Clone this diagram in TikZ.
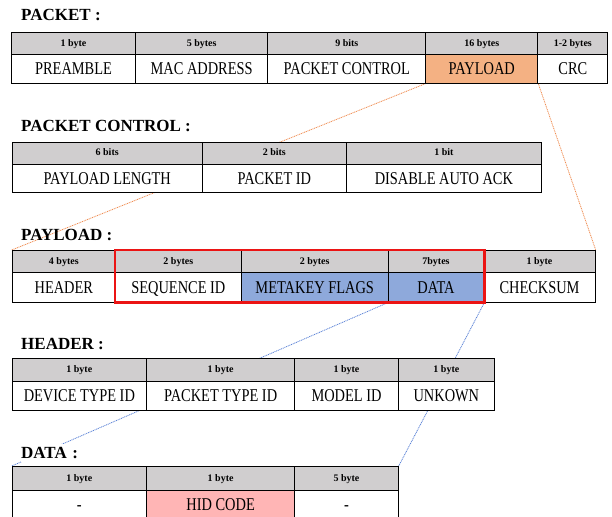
\documentclass[tikz,border=0pt]{standalone}
\usepackage{fontspec}
\setmainfont{Liberation Serif}
\newfontfamily\cellfont{Liberation Serif}[FakeStretch=0.8]
\usetikzlibrary{backgrounds}
\definecolor{hdr}{RGB}{208,206,207}
\definecolor{orng}{RGB}{244,177,131}
\definecolor{blu}{RGB}{142,169,219}
\definecolor{pinkc}{RGB}{255,181,181}
\definecolor{lnorange}{RGB}{240,140,80}
\definecolor{lnblue}{RGB}{90,130,215}
\definecolor{redbox}{RGB}{235,20,20}
\tikzset{
  cellbase/.style={draw=black, line width=1pt, inner sep=0pt, anchor=north west, fill=white},
  hcell/.style={cellbase, fill=hdr, text height=7pt, text depth=2pt, font=\fontsize{10}{12}\selectfont\bfseries},
  dcell/.style={cellbase, text height=11.9pt, text depth=0pt, font=\cellfont\fontsize{18}{20}\selectfont},
  title/.style={anchor=base west, inner sep=0pt, font=\fontsize{17}{20}\selectfont\bfseries},
  olink/.style={draw=lnorange, line width=0.8pt, dash pattern=on 1pt off 0.8pt},
  blink/.style={draw=lnblue, line width=0.8pt, dash pattern=on 1pt off 0.8pt},
  redframe/.style={draw=redbox, line width=2.5pt},
}
\begin{document}
\begin{tikzpicture}[x=1pt,y=-1pt]
\clip (0,0) rectangle (612,516);

% PACKET
\node[title] (tpacket) at (21,20.7) {PACKET :};
\node[hcell, minimum width=124pt, minimum height=22pt] (ph1) at (11,32.3) {1 byte};
\node[hcell, minimum width=132.3pt, minimum height=22pt] (ph2) at (135,32.3) {5 bytes};
\node[hcell, minimum width=158pt, minimum height=22pt] (ph3) at (267.3,32.3) {9 bits};
\node[hcell, minimum width=112pt, minimum height=22pt] (ph4) at (425.3,32.3) {16 bytes};
\node[hcell, minimum width=70pt, minimum height=22pt] (ph5) at (537.3,32.3) {1-2 bytes};
\node[dcell, minimum width=124pt, minimum height=28.4pt] (p1) at (11,54.3) {PREAMBLE};
\node[dcell, minimum width=132.3pt, minimum height=28.4pt] (p2) at (135,54.3) {MAC ADDRESS};
\node[dcell, minimum width=158pt, minimum height=28.4pt] (p3) at (267.3,54.3) {PACKET CONTROL};
\node[dcell, fill=orng, minimum width=112pt, minimum height=28.4pt] (p4) at (425.3,54.3) {PAYLOAD};
\node[dcell, minimum width=70pt, minimum height=28.4pt] (p5) at (537.3,54.3) {CRC};

% PACKET CONTROL
\node[title] (tpc) at (21,131.7) {PACKET CONTROL :};
\node[hcell, minimum width=190pt, minimum height=22.3pt] (ch1) at (11.7,141.7) {6 bits};
\node[hcell, minimum width=144.3pt, minimum height=22.3pt] (ch2) at (201.7,141.7) {2 bits};
\node[hcell, minimum width=194.7pt, minimum height=22.3pt] (ch3) at (346,141.7) {1 bit};
\node[dcell, minimum width=190pt, minimum height=28.3pt] (c1) at (11.7,164) {PAYLOAD LENGTH};
\node[dcell, minimum width=144.3pt, minimum height=28.3pt] (c2) at (201.7,164) {PACKET ID};
\node[dcell, minimum width=194.7pt, minimum height=28.3pt] (c3) at (346,164) {DISABLE AUTO ACK};

% PAYLOAD
\node[title] (tpl) at (21,240) {PAYLOAD :};
\node[hcell, minimum width=103.3pt, minimum height=22.3pt] (pl1h) at (11.7,250) {4 bytes};
\node[hcell, minimum width=125.7pt, minimum height=22.3pt] (pl2h) at (115,250) {2 bytes};
\node[hcell, minimum width=147pt, minimum height=22.3pt] (pl3h) at (240.7,250) {2 bytes};
\node[hcell, minimum width=95.6pt, minimum height=22.3pt] (pl4h) at (387.7,250) {7bytes};
\node[hcell, minimum width=111.4pt, minimum height=22.3pt] (pl5h) at (483.3,250) {1 byte};
\node[dcell, minimum width=103.3pt, minimum height=29.4pt] (pl1) at (11.7,272.3) {HEADER};
\node[dcell, minimum width=125.7pt, minimum height=29.4pt] (pl2) at (115,272.3) {SEQUENCE ID};
\node[dcell, fill=blu, minimum width=147pt, minimum height=29.4pt] (pl3) at (240.7,272.3) {METAKEY FLAGS};
\node[dcell, fill=blu, minimum width=95.6pt, minimum height=29.4pt] (pl4) at (387.7,272.3) {DATA};
\node[dcell, minimum width=111.4pt, minimum height=29.4pt] (pl5) at (483.3,272.3) {CHECKSUM};
\draw[redframe] (pl2h.north west) rectangle (pl4.south east);

% HEADER
\node[title] (thd) at (21,349.3) {HEADER :};
\node[hcell, minimum width=134.3pt, minimum height=22.7pt] (hh1) at (11.7,358.3) {1 byte};
\node[hcell, minimum width=148.3pt, minimum height=22.7pt] (hh2) at (146,358.3) {1 byte};
\node[hcell, minimum width=103.4pt, minimum height=22.7pt] (hh3) at (294.3,358.3) {1 byte};
\node[hcell, minimum width=96.3pt, minimum height=22.7pt] (hh4) at (397.7,358.3) {1 byte};
\node[dcell, minimum width=134.3pt, minimum height=29pt] (h1) at (11.7,381) {DEVICE TYPE ID};
\node[dcell, minimum width=148.3pt, minimum height=29pt] (h2) at (146,381) {PACKET TYPE ID};
\node[dcell, minimum width=103.4pt, minimum height=29pt] (h3) at (294.3,381) {MODEL ID};
\node[dcell, minimum width=96.3pt, minimum height=29pt] (h4) at (397.7,381) {UNKOWN};

% DATA
\node[title, fill=white, text width=92pt, align=left, inner ysep=3pt] (tdata) at (21,458.3) {DATA :};
\node[hcell, minimum width=134.3pt, minimum height=24pt] (dh1) at (11.7,466) {1 byte};
\node[hcell, minimum width=148.3pt, minimum height=24pt] (dh2) at (146,466) {1 byte};
\node[hcell, minimum width=103.4pt, minimum height=24pt] (dh3) at (294.3,466) {5 byte};
\node[dcell, minimum width=134.3pt, minimum height=28pt] (d1) at (11.7,490) {-};
\node[dcell, fill=pinkc, minimum width=148.3pt, minimum height=28pt] (d2) at (146,490) {HID CODE};
\node[dcell, minimum width=103.4pt, minimum height=28pt] (d3) at (294.3,490) {-};

% connectors
\begin{scope}[on background layer]
\fill[white] (0,0) rectangle (612,516);
\draw[olink] (p4.south west) -- (pl1h.north west);
\draw[olink] (p4.south east) -- (pl5h.north east);
\draw[blink] (pl4.south west) -- (dh1.north west);
\draw[blink] (pl4.south east) -- (dh3.north east);
\end{scope}
\end{tikzpicture}
\end{document}
